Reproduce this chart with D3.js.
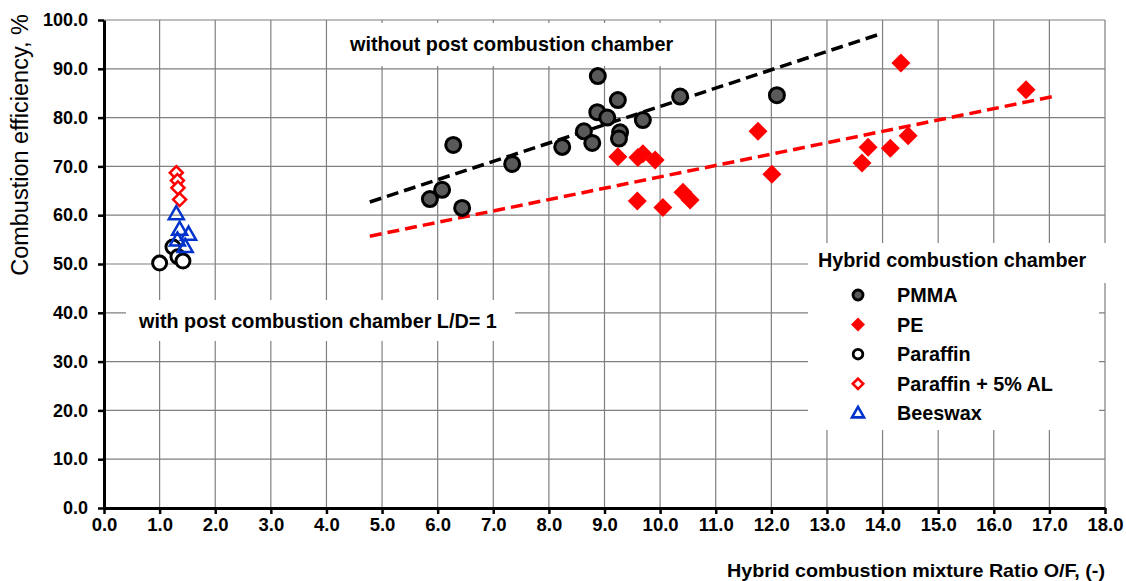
<!DOCTYPE html>
<html><head><meta charset="utf-8">
<script src="https://cdn.jsdelivr.net/npm/d3@7"></script>
<style>
html,body{margin:0;padding:0;background:#fff;}
svg{display:block;font-family:"Liberation Sans",Arial,sans-serif;}
</style></head>
<body><svg id="c" width="1126" height="581"></svg>
<script>
// ---------- data ----------
const xTicks = [0,1,2,3,4,5,6,7,8,9,10,11,12,13,14,15,16,17,18];
const yTicks = [0,10,20,30,40,50,60,70,80,90,100];

const pmmaOF  = [5.86,6.08,6.44,6.28,7.34,8.24,8.88,9.24,8.87,9.05,8.63,8.78,9.28,9.26,9.69,10.36,12.10];
const pmmaEff = [63.3,65.2,61.5,74.4,70.5,74.0,88.5,83.6,81.1,80.0,77.2,74.8,77.0,75.7,79.5,84.3,84.6];

const peOF  = [9.24,9.60,9.69,9.91,9.59,10.05,10.41,10.54,11.76,12.01,13.63,13.74,14.14,14.46,14.33,16.58];
const peEff = [72.0,71.8,72.6,71.3,62.9,61.6,64.7,63.1,77.2,68.4,70.7,73.9,73.7,76.3,91.2,85.7];

const parOF  = [1.00,1.24,1.33,1.42];
const parEff = [50.2,53.5,51.5,50.6];

const parAlOF  = [1.30,1.32,1.33,1.36];
const parAlEff = [68.7,67.1,65.6,63.2];

const beesOF  = [1.30,1.36,1.52,1.32,1.46];
const beesEff = [60.2,57.0,56.0,54.8,53.5];

const trendPmma = [[4.78,62.7],[14.0,97.3]];
const trendPe   = [[4.78,55.7],[17.1,84.4]];

const legendLabels = ["PMMA","PE","Paraffin","Paraffin + 5% AL","Beeswax"];

// ---------- layout ----------
const svg = d3.select("#c");
const x = d3.scaleLinear().domain([0,18]).range([104,1105]);
const y = d3.scaleLinear().domain([0,100]).range([508,20]);

// grid
const grid = svg.append("g");
grid.selectAll("line.v").data(xTicks).join("line")
  .attr("x1",d=>x(d)).attr("x2",d=>x(d)).attr("y1",y(0)).attr("y2",y(100))
  .attr("stroke","#7f7f7f").attr("stroke-width",1.2);
grid.selectAll("line.h").data(yTicks).join("line")
  .attr("x1",x(0)).attr("x2",x(18)).attr("y1",d=>y(d)).attr("y2",d=>y(d))
  .attr("stroke","#7f7f7f").attr("stroke-width",1.2);

// axes
const xAxis = d3.axisBottom(x).tickValues(xTicks).tickFormat(d3.format(".1f")).tickSize(6).tickSizeOuter(0);
const yAxis = d3.axisLeft(y).tickValues(yTicks).tickFormat(d3.format(".1f")).tickSize(6).tickSizeOuter(0);
const gx = svg.append("g").attr("transform",`translate(0,${y(0)})`).call(xAxis);
const gy = svg.append("g").attr("transform",`translate(${x(0)},0)`).call(yAxis);
[gx,gy].forEach(g=>{
  g.select(".domain").attr("stroke","#000").attr("stroke-width",3);
  g.selectAll(".tick line").attr("stroke","#000").attr("stroke-width",2.5);
});
gx.selectAll(".tick text").attr("font-size",18.5).attr("font-weight","bold")
  .attr("font-family","'Liberation Sans',Arial,sans-serif")
  .attr("fill","#000").attr("y",23).attr("dy",0);
gy.selectAll(".tick text").attr("font-size",18).attr("font-weight","bold")
  .attr("fill","#000").attr("x",-16);

// axis titles
svg.append("text").attr("x",1105).attr("y",577).attr("text-anchor","end")
  .attr("font-size",19).attr("font-weight","bold")
  .attr("textLength",378).attr("lengthAdjust","spacingAndGlyphs")
  .text("Hybrid combustion mixture Ratio O/F, (-)");
svg.append("text").attr("transform","translate(28,145) rotate(-90)").attr("text-anchor","middle")
  .attr("font-size",23.5).attr("fill","#000")
  .text("Combustion efficiency, %");

// annotation boxes
svg.append("rect").attr("x",336).attr("y",23).attr("width",354).attr("height",43).attr("fill","#fff");
svg.append("text").attr("x",350).attr("y",51).attr("font-size",19.8).attr("font-weight","bold")
  .text("without post combustion chamber");
svg.append("rect").attr("x",126).attr("y",300).attr("width",389).attr("height",41).attr("fill","#fff");
svg.append("text").attr("x",139).attr("y",328).attr("font-size",19.8).attr("font-weight","bold")
  .text("with post combustion chamber L/D= 1");

// trend lines
const line = d3.line().x(d=>x(d[0])).y(d=>y(d[1]));
svg.append("path").attr("d",line(trendPmma)).attr("stroke","#000").attr("stroke-width",3.5)
  .attr("stroke-dasharray","12,6").attr("fill","none");
svg.append("path").attr("d",line(trendPe)).attr("stroke","#ff0000").attr("stroke-width",3.5)
  .attr("stroke-dasharray","12,6").attr("fill","none");

// marker helpers
const zip = (a,b)=>a.map((v,i)=>[v,b[i]]);
function diamond(h){return `M0,${-h}L${h},0L0,${h}L${-h},0Z`;}
function tri(s){const h=s*0.87;return `M0,${-h*0.62}L${s/2},${h*0.38}L${-s/2},${h*0.38}Z`;}

// PMMA
svg.append("g").selectAll("circle").data(zip(pmmaOF,pmmaEff)).join("circle")
  .attr("cx",d=>x(d[0])).attr("cy",d=>y(d[1])).attr("r",7.5)
  .attr("fill","#595959").attr("stroke","#000").attr("stroke-width",3);
// PE
svg.append("g").selectAll("path").data(zip(peOF,peEff)).join("path")
  .attr("transform",d=>`translate(${x(d[0])},${y(d[1])})`).attr("d",diamond(9.5))
  .attr("fill","#ff0000");
// Paraffin
svg.append("g").selectAll("circle").data(zip(parOF,parEff)).join("circle")
  .attr("cx",d=>x(d[0])).attr("cy",d=>y(d[1])).attr("r",7)
  .attr("fill","#fff").attr("stroke","#000").attr("stroke-width",3);
// Paraffin + Al
svg.append("g").selectAll("path").data(zip(parAlOF,parAlEff)).join("path")
  .attr("transform",d=>`translate(${x(d[0])},${y(d[1])})`).attr("d",diamond(6.5))
  .attr("fill","#fff").attr("stroke","#ff0000").attr("stroke-width",2.5);
// Beeswax
svg.append("g").selectAll("path").data(zip(beesOF,beesEff)).join("path")
  .attr("transform",d=>`translate(${x(d[0])},${y(d[1])})`).attr("d",tri(15))
  .attr("fill","none").attr("stroke","#0033cc").attr("stroke-width",2.5);

// legend
svg.append("rect").attr("x",808).attr("y",243).attr("width",312).attr("height",40).attr("fill","#fff");
svg.append("rect").attr("x",808).attr("y",283).attr("width",291).attr("height",147).attr("fill","#fff");
svg.append("text").attr("x",818).attr("y",267).attr("font-size",19.8).attr("font-weight","bold")
  .text("Hybrid combustion chamber");
const lg = svg.append("g").selectAll("g").data(legendLabels).join("g")
  .attr("transform",(d,i)=>`translate(858,${295+i*29.6})`);
lg.append("text").attr("x",39).attr("y",7).attr("font-size",19.8).attr("font-weight","bold").text(d=>d);
lg.each(function(d,i){
  const g=d3.select(this);
  if(i===0) g.append("circle").attr("r",5).attr("fill","#595959").attr("stroke","#000").attr("stroke-width",2.8);
  if(i===1) g.append("path").attr("d",diamond(7)).attr("fill","#ff0000");
  if(i===2) g.append("circle").attr("r",4.8).attr("fill","#fff").attr("stroke","#000").attr("stroke-width",2.8);
  if(i===3) g.append("path").attr("d",diamond(5.2)).attr("fill","#fff").attr("stroke","#ff0000").attr("stroke-width",2.6);
  if(i===4) g.append("path").attr("d",tri(12)).attr("fill","#fff").attr("stroke","#0033cc").attr("stroke-width",2.6);
});
</script></body></html>
